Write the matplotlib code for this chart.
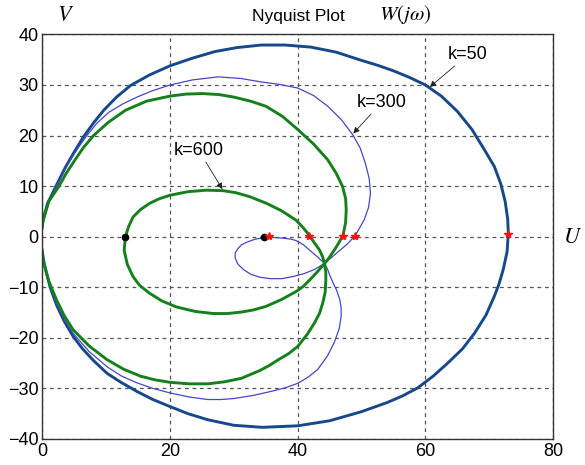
import matplotlib
matplotlib.use('Agg')
import matplotlib.pyplot as plt

# k=50 (dark blue)
k50_u = [-0.3, 0.1, 0.8, 2.2, 3.5, 5, 6.4, 8, 9.6, 11.6, 13.8, 16.8, 20, 23.5, 27, 30.5, 34.3,
         38, 42, 46, 49.9, 52.5, 55, 57.5, 60, 62.5, 65, 67.3, 69.2, 70.8, 71.8, 72.5, 72.9,
         73.0, 72.8, 72.2, 71.5, 70.8, 69.5, 67.7, 65.8, 63.5, 61.2, 58.8, 56.4, 54, 50, 45,
         40, 34.5, 30, 25.9, 22.8, 20, 17.3, 14.8, 12.3, 10.1, 8, 6.3, 4.8, 3.4, 2.2, 1.2,
         0.3, -0.3]
k50_v = [0, 3.3, 6.6, 10.2, 13.5, 16.8, 19.7, 22.5, 25.0, 27.6, 29.9, 32, 33.8, 35.3, 36.6,
         37.4, 37.9, 37.9, 37.5, 36.5, 34.9, 33.9, 32.8, 31.5, 30, 27.8, 24.8, 21.2, 17.3, 13.9,
         10.5, 7, 3.5, 0.6, -3, -6.5, -9.5, -11.8, -15.5, -19.1, -22.2, -25, -27.6, -29.9,
         -31.5, -32.8, -34.6, -36.4, -37.4, -37.7, -37.3, -36.2, -35, -33.6, -32.2, -30.6,
         -28.8, -27, -24.5, -22.2, -19.7, -16.7, -13.5, -10, -5.5, -1]

# k=300 (thin blue)
k300_u = [-0.3, 0.2, 1, 2.4, 4, 5.5, 6.9, 8.5, 10.4, 12.5, 14.8, 17.3, 20, 23.5, 27.5, 31,
          34.3, 37.2, 40, 42.5, 44.7, 46.8, 48.6, 49.8, 50.6, 51.2, 51.4, 51.1, 50.4, 49.0,
          47.8, 46.6, 45.4, 44.2, 42.6, 41, 39.2, 37.5, 35.7, 34, 32.6, 31.5, 30.6, 30.2, 30.2,
          30.6, 31.2, 32, 33.3, 34.7, 35.5, 36.7, 37.8, 39, 39.8, 40.9, 41.9, 43.1, 44.2, 44.7,
          45.1, 45.6, 46.1, 46.6, 46.8, 46.8, 46.5, 45.7, 44.6, 43.1, 41.6, 40, 38, 35.8, 33,
          30, 28, 25.9, 23, 20, 17.3, 14.8, 12.3, 10.1, 7.3, 4.8, 3.4, 2.2, 1, 0.1, -0.3]
k300_v = [0, 3.8, 7, 10.5, 14.4, 17.4, 19.9, 22.4, 24.6, 26.2, 27.6, 28.9, 30, 31.0, 31.6,
          31.3, 30.6, 30.1, 29.4, 27.9, 25.8, 23.2, 20.2, 17.5, 14.5, 11.5, 8.6, 5.8, 3.3, 0.2,
          -1.4, -2.7, -4, -5.3, -6.5, -7.3, -7.9, -8.3, -8.3, -8.0, -7.4, -6.5, -5.4, -4.2, -3.2,
          -2.4, -1.6, -1.1, -0.5, -0.2, -0.1, -0.2, -0.3, -0.5, -0.8, -1.6, -2.7, -4, -5.3, -6.5,
          -7.9, -9.3, -10.6, -12.5, -14, -15.8, -18.2, -21, -23.7, -26.3, -27.8, -29, -29.9,
          -30.6, -31.4, -32, -32.2, -32.2, -31.7, -30.9, -30, -28.9, -27.5, -25.7, -22.7, -19.1,
          -16.3, -13.2, -9, -4.9, -1]

# k=600 (green)
k600_u = [-0.3, 0.1, 1, 2.6, 3.7, 5, 6.4, 8, 10.3, 13, 16.3, 20, 22.5, 25.1, 27.7, 30, 32.6,
          35, 37.6, 40, 42.5, 44.7, 46, 47, 47.5, 47.6, 47.5, 47.1, 46.4, 45.6, 44.9, 44.2,
          43.1, 42, 40.9, 39.8, 37.5, 35, 33, 31.2, 29, 26.8, 24, 21, 18.7, 16.8, 15.2, 14.2,
          13.3, 12.8, 13.0, 13.5, 14.2, 15.4, 16.8, 18.3, 20, 22.8, 25.7, 28.3, 30.3, 32.5,
          35.1, 37.5, 39.8, 40.9, 41.8, 42.6, 43.4, 43.9, 44.2, 44.4, 44.4, 44.3, 43.9, 43.4,
          42.6, 41.5, 40, 38.6, 37, 35.5, 34, 32.5, 31.2, 28.5, 25.9, 23, 20, 17.6, 15.4, 12.7,
          10.1, 7.3, 4.8, 3.4, 2.2, 1, 0.1, -0.3]
k600_v = [0, 3.2, 7, 10, 12.5, 15, 17.6, 20, 22.6, 25, 26.8, 27.8, 28.2, 28.3, 28.1, 27.6,
          26.8, 25.8, 23.8, 21.2, 18.3, 15.2, 12.6, 10, 7.6, 5.3, 2.8, 0.3, -1.3, -2.9, -4.2,
          -5.3, -6.9, -8.4, -9.8, -10.8, -12.4, -13.8, -14.5, -14.9, -15.2, -15.2, -14.8, -13.9,
          -12.7, -11.2, -9.6, -7.9, -5.5, -2.7, 0, 2, 3.9, 5.4, 6.6, 7.5, 8.2, 8.9, 9.2, 9.1,
          8.7, 7.9, 6.6, 5.1, 3.2, 1.7, 0.3, -1.2, -2.6, -4, -5.3, -7, -8.6, -11, -13.2, -15.2,
          -17.1, -19.3, -21.7, -23.1, -24.3, -25.5, -26.5, -27.3, -28, -28.7, -29.1, -29.1,
          -28.8, -28.3, -27.6, -26.2, -24.3, -21.6, -18.4, -15.6, -12.5, -8.8, -4.8, -1]

dot_u = [13.0, 34.7]
dot_v = [0, 0]
star_u = [35.5, 41.8, 47.1, 49.0, 73.0]
star_v = [0.1, 0.2, 0.2, 0.2, 0.6]

fig = plt.figure(figsize=(5.85, 4.65), dpi=100)
ax = fig.add_axes([0.0726, 0.056, 0.8727, 0.870])

ax.plot(k50_u, k50_v, color='#17488a', lw=2.1)
ax.plot(k300_u, k300_v, color='#4646c8', lw=0.9)
ax.plot(k600_u, k600_v, color='#16801c', lw=2.1)
ax.plot(dot_u, dot_v, 'k.', ms=9)
ax.plot(star_u, star_v, '*', color='#ff1010', ms=6)

ax.set_xlim(0, 80)
ax.set_ylim(-40, 40)
ax.set_xticks([0, 20, 40, 60, 80])
ax.set_yticks(range(-40, 41, 10))
ax.grid(True, color='#555555', ls=(0, (3, 3)), lw=0.9)
ax.tick_params(direction='in', length=0, labelsize=13, pad=3)
for lab in ax.get_xticklabels() + ax.get_yticklabels():
    lab.set_family('Liberation Sans')
for s in ax.spines.values():
    s.set_color('#333333')
    s.set_linewidth(1.0)

arr = dict(arrowstyle='-|>', color='#222222', lw=0.6, mutation_scale=9, shrinkA=0, shrinkB=0)
ax.annotate('k=50', xy=(60.7, 29.6), xytext=(66.7, 36), ha='center', va='center',
            fontsize=13, family='Liberation Sans', arrowprops=arr)
ax.annotate('k=300', xy=(48.7, 20.4), xytext=(53.1, 26.5), ha='center', va='center',
            fontsize=13, family='Liberation Sans', arrowprops=arr)
ax.annotate('k=600', xy=(28.2, 9.4), xytext=(24.5, 17), ha='center', va='center',
            fontsize=13, family='Liberation Sans', arrowprops=arr)

fig.text(298 / 585, 1 - 16 / 465, 'Nyquist Plot', ha='center', va='center',
         fontsize=12.5, family='Liberation Sans')
fig.text(405 / 585, 1 - 15 / 465, r'$W(j\omega)$', ha='center', va='center', fontsize=15,
         math_fontfamily='stix')
fig.text(66 / 585, 1 - 15 / 465, r'$V$', ha='center', va='center', fontsize=16,
         math_fontfamily='stix')
fig.text(573 / 585, 1 - 237 / 465, r'$U$', ha='center', va='center', fontsize=16,
         math_fontfamily='stix')

fig.savefig('out.png', dpi=100)
